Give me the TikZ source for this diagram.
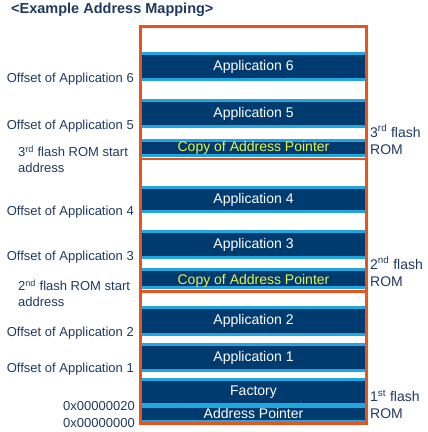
\documentclass[tikz,border=0pt]{standalone}
\usepackage{fontspec}
\setmainfont{Liberation Sans}
\definecolor{navy}{HTML}{003B6F}
\definecolor{skyb}{HTML}{22A6E0}
\definecolor{orng}{HTML}{E8541C}
\definecolor{lbl}{HTML}{1F3A60}
\definecolor{ylw}{HTML}{E6F24A}
\begin{document}
\begin{tikzpicture}[x=1pt,y=-1pt,
  bartext/.style={inner sep=0pt,font=\fontsize{14}{16}\selectfont,text=white},
  copytext/.style={inner sep=0pt,font=\fontsize{14}{16}\selectfont,text=ylw},
  leftlbl/.style={inner sep=0pt,anchor=east,font=\fontsize{13}{16}\selectfont,text=lbl},
  startlbl/.style={inner sep=0pt,anchor=west,align=left,font=\fontsize{13}{16}\selectfont,text=lbl},
  romlbl/.style={inner sep=0pt,anchor=west,align=left,font=\fontsize{14}{17}\selectfont,text=lbl},
  romframe/.style={draw=orng,line width=2.7pt}]
\useasboundingbox (0,0) rectangle (428,432);
\node[anchor=west,inner sep=0pt,font=\bfseries\fontsize{14.5}{16}\selectfont,text=lbl] (title) at (11,10) {<Example Address Mapping>};
% bars: light band then dark core
\foreach \t/\b in {52/81,99/128,139/157,185.5/213,230/259,268/289,306/336,343/372,378/423}{
  \fill[skyb] (141,\t) rectangle (366,\b);
  \fill[navy] (141,\t+3) rectangle (366,\b-3);
}
\fill[skyb] (141,403) rectangle (366,407.5);
\node[bartext] (a6) at (253.5,66.5) {Application 6};
\node[bartext] (a5) at (253.5,113.5) {Application 5};
\node[copytext] (c3) at (253.5,148) {Copy of Address Pointer};
\node[bartext] (a4) at (253.5,199.5) {Application 4};
\node[bartext] (a3) at (253.5,244.5) {Application 3};
\node[copytext] (c2) at (253.5,280.5) {Copy of Address Pointer};
\node[bartext] (a2) at (253.5,321) {Application 2};
\node[bartext] (a1) at (253.5,357.5) {Application 1};
\node[bartext] (fac) at (253.5,392.5) {Factory};
\node[bartext] (ap) at (253.5,413) {Address Pointer};
% flash ROM frames
\draw[romframe] (140.7,26.2) rectangle (366.3,159);
\draw[romframe] (140.7,159) rectangle (366.3,291.3);
\draw[romframe] (140.7,291.3) rectangle (366.3,423.8);
% left labels
\node[leftlbl] (o6) at (134,79) {Offset of Application 6};
\node[leftlbl] (o5) at (134,126) {Offset of Application 5};
\node[startlbl] (s3) at (18,159) {3\textsuperscript{rd} flash ROM start\\address};
\node[leftlbl] (o4) at (134,212) {Offset of Application 4};
\node[leftlbl] (o3) at (134,257) {Offset of Application 3};
\node[startlbl] (s2) at (18,293.5) {2\textsuperscript{nd} flash ROM start\\address};
\node[leftlbl] (o2) at (134,333) {Offset of Application 2};
\node[leftlbl] (o1) at (134,369) {Offset of Application 1};
\node[leftlbl] (h20) at (135,406) {0x00000020};
\node[leftlbl] (h00) at (135,423) {0x00000000};
% right labels
\node[romlbl] (r3) at (370,139.5) {3\textsuperscript{rd} flash\\ROM};
\node[romlbl] (r2) at (370,271.5) {2\textsuperscript{nd} flash\\ROM};
\node[romlbl] (r1) at (370,404.5) {1\textsuperscript{st} flash\\ROM};
\end{tikzpicture}
\end{document}
